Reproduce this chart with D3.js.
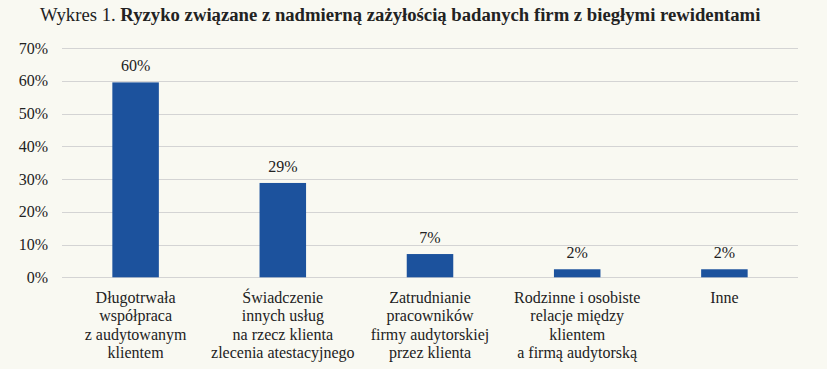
<!DOCTYPE html>
<html>
<head>
<meta charset="utf-8">
<script src="https://cdn.jsdelivr.net/npm/d3@7"></script>
</head>
<body style="margin:0;background:#f9f9f2">
<svg id="chart" width="827" height="369"></svg>
<script>
const categories = [
  ["Długotrwała", "współpraca", "z audytowanym", "klientem"],
  ["Świadczenie", "innych usług", "na rzecz klienta", "zlecenia atestacyjnego"],
  ["Zatrudnianie", "pracowników", "firmy audytorskiej", "przez klienta"],
  ["Rodzinne i osobiste", "relacje między", "klientem", "a firmą audytorską"],
  ["Inne"]
];
const values = [59.5, 28.8, 7.1, 2.45, 2.45];
const yTicks = [0, 10, 20, 30, 40, 50, 60, 70];

const FONT = '"Times New Roman", "Liberation Serif", serif';
const svg = d3.select("#chart");
const margin = { top: 48, right: 29, bottom: 91.7, left: 62 };
const W = 827, H = 369;

const x = d3.scaleBand()
  .domain(d3.range(values.length))
  .range([margin.left, W - margin.right])
  .paddingInner(0.684)
  .paddingOuter(0.342);

const y = d3.scaleLinear()
  .domain([0, 70])
  .range([H - margin.bottom, margin.top]);

// title
const title = svg.append("text")
  .attr("x", 40)
  .attr("y", 21)
  .attr("font-size", 18.7)
  .style("font-family", FONT)
  .attr("fill", "#222");
title.append("tspan").text("Wykres 1. ");
title.append("tspan").attr("font-weight", "bold").text("Ryzyko związane z nadmierną zażyłością badanych firm z biegłymi rewidentami");

// gridlines
svg.append("g")
  .selectAll("line")
  .data(yTicks)
  .join("line")
  .attr("x1", margin.left)
  .attr("x2", W - margin.right)
  .attr("y1", d => Math.round(y(d)) + 0.5)
  .attr("y2", d => Math.round(y(d)) + 0.5)
  .attr("stroke", "#d4d4d4")
  .attr("stroke-width", 1);

// y tick labels
svg.append("g")
  .selectAll("text")
  .data(yTicks)
  .join("text")
  .attr("x", 48)
  .attr("y", d => y(d) + 5.5)
  .attr("text-anchor", "end")
  .attr("font-size", 16)
  .style("font-family", FONT)
  .attr("fill", "#222")
  .text(d => d + "%");

// bars
svg.append("g")
  .selectAll("rect")
  .data(values)
  .join("rect")
  .attr("x", (d, i) => x(i))
  .attr("width", x.bandwidth())
  .attr("y", d => y(d))
  .attr("height", d => y(0) - y(d))
  .attr("fill", "#1c529d");

// value labels
svg.append("g")
  .selectAll("text")
  .data(values)
  .join("text")
  .attr("x", (d, i) => x(i) + x.bandwidth() / 2)
  .attr("y", d => y(d) - 11)
  .attr("text-anchor", "middle")
  .attr("font-size", 16)
  .style("font-family", FONT)
  .attr("fill", "#222")
  .text(d => Math.round(d) + "%");

// category labels, one text per line
const lines = categories.flatMap((c, i) => c.map((t, j) => ({ i, j, t })));
svg.append("g")
  .selectAll("text")
  .data(lines)
  .join("text")
  .attr("x", d => x(d.i) + x.bandwidth() / 2)
  .attr("y", d => 303 + d.j * 18.3)
  .attr("text-anchor", "middle")
  .attr("font-size", 16)
  .style("font-family", FONT)
  .attr("fill", "#222")
  .text(d => d.t);
</script>
</body>
</html>
